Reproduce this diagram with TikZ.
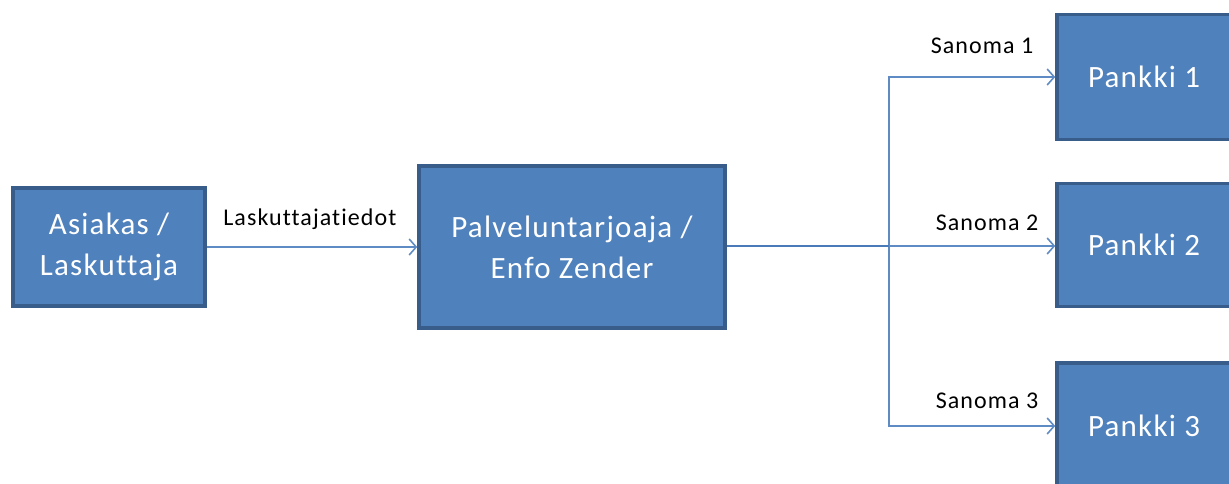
\documentclass[tikz,border=0pt]{standalone}
\usepackage{fontspec}
\setmainfont{Carlito}
\newfontfamily\boxfont[LetterSpace=4,Ligatures=NoCommon]{Carlito}
\newfontfamily\lblfont[LetterSpace=4.5,Ligatures=NoCommon]{Carlito}
\usetikzlibrary{arrows.meta}
\definecolor{boxfill}{HTML}{4F81BD}
\definecolor{boxedge}{HTML}{385D8A}
\definecolor{linkc}{HTML}{5F8BC4}
\definecolor{trunkc}{HTML}{4A7AB8}
\tikzset{
  blockbox/.style={draw=boxedge, fill=boxfill, line width=3.5pt, text=white,
    font=\boxfont\fontsize{31}{41}\selectfont, align=center, inner sep=0pt},
  link/.style={draw=linkc, line width=1.8pt, -{Straight Barb[length=7pt,width=16pt,line width=1.6pt]}},
  trunk/.style={draw=trunkc, line width=2.4pt},
  lbl/.style={font=\lblfont\fontsize{24}{28}\selectfont, text=black, inner sep=0pt, anchor=center}
}
\begin{document}
\begin{tikzpicture}[x=1pt,y=-1pt]
\useasboundingbox (0,0) rectangle (1229,483);
\clip (0,0) rectangle (1229,483);
\node[blockbox, minimum width=192pt, minimum height=118pt] (asi) at (109,247) {Asiakas /\\Laskuttaja};
\node[blockbox, minimum width=306pt, minimum height=162pt] (pal) at (572,247) {Palveluntarjoaja /\\Enfo Zender};
\node[blockbox, minimum width=174pt, minimum height=125pt] (p1) at (1144,77) {Pankki 1};
\node[blockbox, minimum width=174pt, minimum height=123pt] (p2) at (1144,245) {Pankki 2};
\node[blockbox, minimum width=174pt, minimum height=126pt] (p3) at (1144,426) {Pankki 3};
\coordinate (j) at (889,246);
\draw[link] (asi.east) -- (pal.west) node[lbl, pos=0.49, yshift=28pt] {Laskuttajatiedot};
\draw[link] (j) |- (p1.west) node[lbl, pos=0.78, yshift=31pt] {Sanoma 1};
\draw[link] (j) -- (j -| p2.west) node[lbl, pos=0.59, yshift=23pt] {Sanoma 2};
\draw[link] (j) |- (p3.west) node[lbl, pos=0.795, yshift=25pt] {Sanoma 3};
\draw[trunk] (pal.east |- j) -- (j);
\end{tikzpicture}
\end{document}
